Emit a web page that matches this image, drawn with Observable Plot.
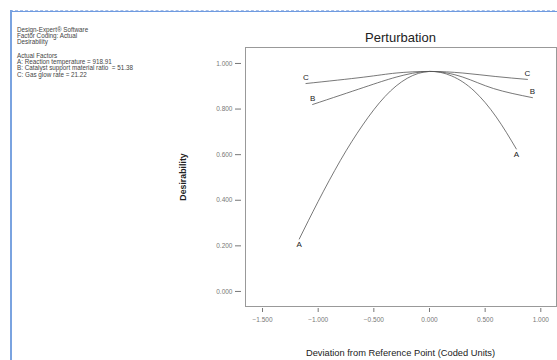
<!DOCTYPE html>
<html>
<head>
<meta charset="utf-8">
<script src="https://cdn.jsdelivr.net/npm/d3@7"></script>
<script src="https://cdn.jsdelivr.net/npm/@observablehq/plot@0.6"></script>
<style>
  html, body { margin: 0; padding: 0; background: #fff; }
  #wrap { position: relative; width: 557px; height: 360px; overflow: hidden; font-family: "Liberation Sans", Arial, sans-serif; }
  #wrap svg { position: absolute; left: 0; top: 0; }
  .bt { position: absolute; left: 10px; top: 10px; width: 560px; height: 0; border-top: 1px dashed #a8c0ea; }
  .bt2 { position: absolute; left: 10px; top: 11px; width: 560px; height: 0; border-top: 1px solid #6f9be0; }
  .bl { position: absolute; left: 10px; top: 10px; width: 0; height: 360px; border-left: 2px solid #7aa3e0; }
  .info { position: absolute; left: 17px; font-size: 6.3px; color: #444; line-height: 6.2px; white-space: pre; }
  .title { position: absolute; left: 245px; width: 311px; top: 30px; text-align: center; font-size: 13px; color: #222; }
  .xlab { position: absolute; left: 245px; width: 311px; top: 348px; text-align: center; font-size: 9.3px; color: #222; }
  .ylab { position: absolute; left: 183px; top: 177px; transform: translate(-50%, -50%) rotate(-90deg); font-size: 8.8px; color: #222; font-weight: bold; white-space: nowrap; }
</style>
</head>
<body>
<div id="wrap">
  <div class="bt"></div><div class="bt2"></div><div class="bl"></div>
  <div class="info" style="top:27px">Design-Expert® Software
Factor Coding: Actual
Desirability</div>
  <div class="info" style="top:53px">Actual Factors
A: Reaction temperature = 918.91
B: Catalyst support material ratio  = 51.38
C: Gas glow rate = 21.22</div>
  <div class="title">Perturbation</div>
  <div class="ylab">Desirability</div>
  <div class="xlab">Deviation from Reference Point (Coded Units)</div>
</div>
<script>
// Factor A: Reaction temperature
const aDev = [-1.17, -1.0, -0.8, -0.6, -0.4, -0.2, 0.0, 0.2, 0.4, 0.6, 0.78];
const aDes = [0.23, 0.395, 0.575, 0.73, 0.855, 0.935, 0.965, 0.945, 0.88, 0.765, 0.625];
// Factor B: Catalyst support material ratio
const bDev = [-1.05, -0.59, -0.30, 0.00, 0.30, 0.575, 0.925];
const bDes = [0.82, 0.895, 0.94, 0.965, 0.94, 0.89, 0.85];
// Factor C: Gas glow rate
const cDev = [-1.11, -0.59, -0.30, 0.00, 0.30, 0.59, 0.88];
const cDes = [0.912, 0.94, 0.958, 0.965, 0.958, 0.943, 0.93];

const xTicks = [-1.5, -1.0, -0.5, 0.0, 0.5, 1.0];
const yTicks = [0.0, 0.2, 0.4, 0.6, 0.8, 1.0];

const series = [["A", aDev, aDes], ["B", bDev, bDes], ["C", cDev, cDes]];
const data = series.flatMap(([f, xs, ys]) => xs.map((x, i) => ({f, x, y: ys[i]})));
const ends = series.flatMap(([f, xs, ys]) => [
  {f, x: xs[0], y: ys[0]},
  {f, x: xs[xs.length - 1], y: ys[ys.length - 1]}
]);
const fmt = d3.format(".3f");

const chart = Plot.plot({
  width: 557,
  height: 360,
  marginLeft: 245,
  marginRight: 1,
  marginTop: 47,
  marginBottom: 54,
  x: {domain: [-1.653, 1.141]},
  y: {domain: [-0.066, 1.070]},
  style: {fontFamily: "'Liberation Sans', Arial, sans-serif", background: "transparent"},
  marks: [
    Plot.frame({stroke: "#999", strokeWidth: 1}),
    Plot.axisY(yTicks, {tickSize: 6, dx: -4, tickPadding: 3, tickFormat: fmt, fontSize: 6.5, color: "#777", label: null}),
    Plot.axisX(xTicks, {tickSize: 4, dy: 2, tickPadding: 5, tickFormat: fmt, fontSize: 6.5, color: "#777", label: null}),
    Plot.line(data, {x: "x", y: "y", z: "f", curve: "natural", stroke: "#555", strokeWidth: 0.8}),
    Plot.text(ends.filter(d => d.f === "A"), {x: "x", y: "y", text: "f", dy: 5, fontSize: 8, fill: "#222"}),
    Plot.text(ends.filter(d => d.f !== "A"), {x: "x", y: "y", text: "f", dy: -6, fontSize: 8, fill: "#222"})
  ]
});
document.getElementById("wrap").prepend(chart);
</script>
</body>
</html>
